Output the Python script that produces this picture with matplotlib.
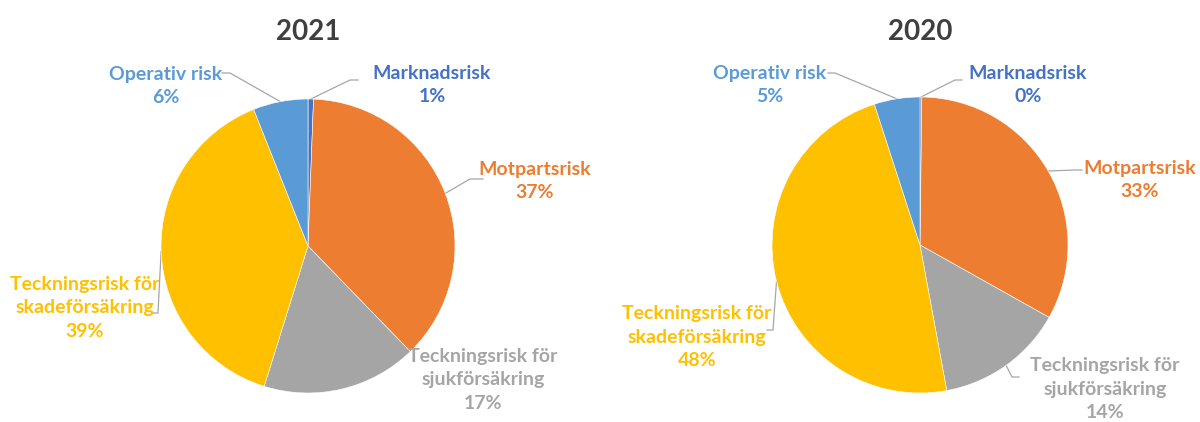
import numpy as np
import matplotlib
matplotlib.use("Agg")
import matplotlib.pyplot as plt

# ---- data ----
categories = ["Marknadsrisk", "Motpartsrisk", "Teckningsrisk för\nsjukförsäkring",
              "Teckningsrisk för\nskadeförsäkring", "Operativ risk"]
values_2021 = [0.6, 37, 17, 39, 6]
values_2020 = [0.2, 33, 14, 48, 5]
years = ["2021", "2020"]
colors = ["#4472C4", "#ED7D31", "#A5A5A5", "#FFC000", "#5B9BD5"]

W, H = 1200, 422
fig = plt.figure(figsize=(12, 4.22), dpi=100)
ax = fig.add_axes([0, 0, 1, 1])
ax.set_xlim(0, W)
ax.set_ylim(0, H)
ax.axis("off")

FONT = ["Lato", "DejaVu Sans"]

def Y(y):  # image y (down) -> data y (up)
    return H - y

# layout per pie: center, radius, label text positions and leader elbows (image coords)
layouts = [
    dict(center=(308, 246), r=147, title=(308, 32),
         text=[(432, 85), (535, 181), (483, 380), (85, 308), (166, 86)],
         leader=[[(350, 80), (358, 80)],
                 [(470, 179), (483, 179)],
                 None,
                 [(158, 313), (152, 313)],
                 [(230, 73), (222, 73)]]),
    dict(center=(920, 245), r=148, title=(920, 32),
         text=[(1028, 85), (1140, 180), (1105, 389), (697, 337), (770, 85)],
         leader=[[(955, 80), (962, 80)],
                 [(1075, 170), (1082, 170)],
                 [(1012, 377), (1019, 377)],
                 [(773, 330), (767, 330)],
                 [(835, 73), (828, 73)]]),
]

for vals, year, lay in zip([values_2021, values_2020], years, layouts):
    cx, cy = lay["center"]
    r = lay["r"]
    wedges, _ = ax.pie(vals, colors=colors, startangle=90, counterclock=False,
                       center=(cx, Y(cy)), radius=r,
                       wedgeprops=dict(edgecolor="white", linewidth=0.4))
    ax.text(lay["title"][0], Y(lay["title"][1]), year, ha="center", va="center",
            fontsize=20, fontweight="bold", color="#3F3F3F", family=FONT)
    for i, (cat, v, col) in enumerate(zip(categories, vals, colors)):
        w = wedges[i]
        mid = np.deg2rad((w.theta1 + w.theta2) / 2)
        ax_x = cx + r * np.cos(mid)
        ax_y = Y(cy) + r * np.sin(mid)
        tx, ty = lay["text"][i]
        pct = f"{v:.0f}%"
        ax.text(tx, Y(ty), f"{cat}\n{pct}", ha="center", va="center",
                fontsize=14, fontweight="bold", color=col, family=FONT,
                linespacing=1.45)
        ld = lay["leader"][i]
        if ld is not None:
            xs = [ax_x] + [p[0] for p in ld]
            ys = [ax_y] + [Y(p[1]) for p in ld]
            ax.plot(xs, ys, color="#A6A6A6", linewidth=0.9, zorder=0.5)

ax.set_xlim(0, W)
ax.set_ylim(0, H)
ax.set_aspect("auto")
fig.savefig("out.png", dpi=100, facecolor="white")
